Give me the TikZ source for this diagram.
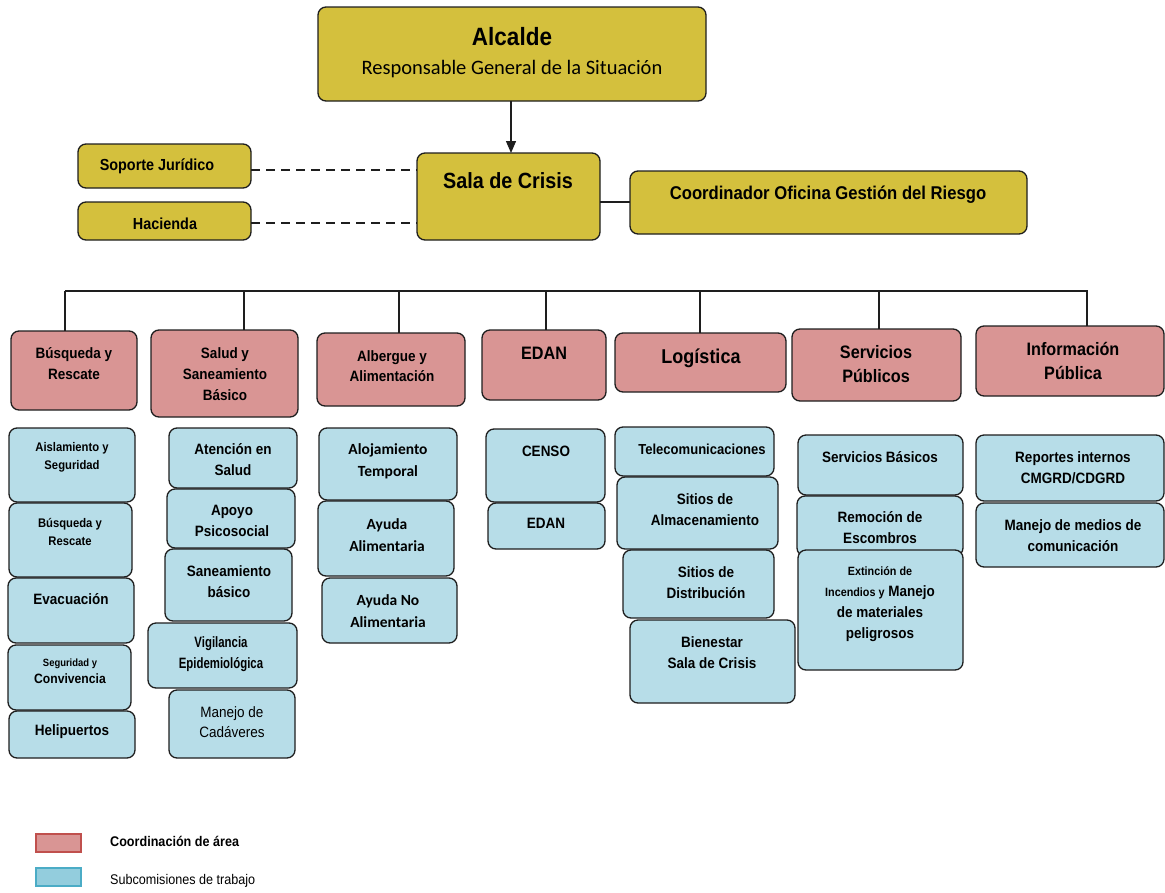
\documentclass[tikz,border=0pt]{standalone}
\usepackage{fontspec}
\setmainfont{Liberation Sans}[FakeStretch=0.9]
\newfontfamily\carl{Carlito}
\newfontfamily\tightf{Liberation Sans}[FakeStretch=0.76]
\usetikzlibrary{arrows.meta}
\definecolor{gold}{HTML}{D4C03D}
\definecolor{redf}{HTML}{D99594}
\definecolor{bluef}{HTML}{B7DDE8}
\definecolor{edge}{HTML}{1E1E1E}
\definecolor{legred}{HTML}{C0504D}
\definecolor{legblue}{HTML}{4BACC6}
\definecolor{legbluef}{HTML}{93CDDD}
\newcommand{\fz}[2]{\fontsize{#1}{#2}\selectfont}
\newcommand{\bx}[6]{\node[#6, anchor=north west, minimum width={#4-#2}, minimum height={#5-#3}] (#1) at (#2,#3) {};}
\tikzset{
  box/.style={draw=edge, line width=1.3pt, rounded corners=8pt, inner sep=0pt, outer sep=0pt},
  goldbox/.style={box, fill=gold},
  redbox/.style={box, fill=redf},
  bluebox/.style={box, fill=bluef},
  tx/.style={align=center, inner sep=0pt, font=\bfseries\fz{15}{21}},
  link/.style={draw=edge, line width=1.3pt},
}
\begin{document}
\begin{tikzpicture}[x=1pt, y=-1pt]
\useasboundingbox (0,0) rectangle (1165,892);
% top level
\bx{alc}{318}{7}{706}{101}{goldbox}
\node[tx, font=\bfseries\fz{25}{28}] (alct) at (512,37) {Alcalde};
\node[tx, font=\carl\fz{20.5}{22}] (alcs) at (512,69) {Responsable General de la Situación};
\bx{sala}{417}{153}{600}{240}{goldbox}
\node[tx, font=\bfseries\fz{22}{24}] (salat) at (508,181) {Sala de Crisis};
\bx{sop}{78}{144}{251}{188}{goldbox}
\node[tx, font=\bfseries\fz{16}{18}] (sopt) at (157,166) {Soporte Jurídico};
\bx{hac}{78}{202}{251}{240}{goldbox}
\node[tx, font=\bfseries\fz{16}{18}] (hact) at (165,224) {Hacienda};
\bx{coord}{630}{171}{1027}{234}{goldbox}
\node[tx, font=\bfseries\fz{18.5}{20}] (coordt) at (828,195) {Coordinador Oficina Gestión del Riesgo};
\draw[link, -{Triangle[length=12pt, width=10pt]}] (alc.south -| 511,0) -- (sala.north -| 511,0);
\draw[link, dash pattern=on 9pt off 6pt] (sop.east |- 0,170) -- (sala.west |- 0,170);
\draw[link, dash pattern=on 9pt off 6pt] (hac.east |- 0,223) -- (sala.west |- 0,223);
\draw[link] (sala.east |- 0,202) -- (coord.west |- 0,202);
% area coordinators
\bx{r1}{11}{331}{137}{410}{redbox}
\node[tx] (r1t) at (74,363.5) {Búsqueda y\\Rescate};
\bx{r2}{151}{330}{298}{417}{redbox}
\node[tx] (r2t) at (225,374) {Salud y\\Saneamiento\\Básico};
\bx{r3}{317}{333}{465}{406}{redbox}
\node[tx, font=\bfseries\fz{15}{20}] (r3t) at (392,366) {Albergue y\\Alimentación};
\bx{r4}{482}{330}{606}{400}{redbox}
\node[tx, font=\bfseries\fz{18}{22}] (r4t) at (544,353) {EDAN};
\bx{r5}{615}{333}{786}{392}{redbox}
\node[tx, font=\bfseries\fz{20}{22}] (r5t) at (701,358) {Logística};
\bx{r6}{792}{329}{961}{401}{redbox}
\node[tx, font=\bfseries\fz{18}{24}] (r6t) at (876,364) {Servicios\\Públicos};
\bx{r7}{976}{326}{1164}{396}{redbox}
\node[tx, font=\bfseries\fz{18}{24}] (r7t) at (1073,361) {Información\\Pública};
% bus
\coordinate (bl) at (65,291);
\coordinate (br) at (1088,291);
\draw[link] (bl) -- (br);
\coordinate (k1) at (65,291);
\coordinate (k2) at (244,291);
\coordinate (k3) at (399,291);
\coordinate (k4) at (546,291);
\coordinate (k5) at (700,291);
\coordinate (k6) at (879,291);
\coordinate (k7) at (1087,291);
\draw[link] (k1) -- (k1 |- r1.north);
\draw[link] (k2) -- (k2 |- r2.north);
\draw[link] (k3) -- (k3 |- r3.north);
\draw[link] (k4) -- (k4 |- r4.north);
\draw[link] (k5) -- (k5 |- r5.north);
\draw[link] (k6) -- (k6 |- r6.north);
\draw[link] (k7) -- (k7 |- r7.north);
% column 1
\bx{b11}{9}{428}{135}{502}{bluebox}
\node[tx, font=\bfseries\fz{12.5}{18}] (b11t) at (72,457.5) {Aislamiento y\\Seguridad};
\bx{b12}{9}{503}{132}{577}{bluebox}
\node[tx, font=\bfseries\fz{12.5}{18}] (b12t) at (70,532) {Búsqueda y\\Rescate};
\bx{b13}{8}{578}{134}{643}{bluebox}
\node[tx, font=\bfseries\fz{15}{18}] (b13t) at (71,599) {Evacuación};
\bx{b14}{8}{645}{131}{710}{bluebox}
\node[tx, font=\bfseries\fz{13.5}{17}] (b14t) at (70,671.5) {{\fz{10.5}{13}Seguridad y}\\Convivencia};
\bx{b15}{9}{711}{135}{758}{bluebox}
\node[tx, font=\bfseries\fz{15}{18}] (b15t) at (72,732) {Helipuertos};
% column 2
\bx{b21}{169}{428}{297}{488}{bluebox}
\node[tx] (b21t) at (233,459.5) {Atención en\\Salud};
\bx{b22}{167}{489}{295}{548}{bluebox}
\node[tx] (b22t) at (232,520.5) {Apoyo\\Psicosocial};
\bx{b23}{165}{549}{292}{621}{bluebox}
\node[tx] (b23t) at (229,581.5) {Saneamiento\\básico};
\bx{b24}{148}{623}{297}{688}{bluebox}
\node[tx, font=\tightf\bfseries\fz{15}{21}] (b24t) at (221,654.5) {Vigilancia\\Epidemiológica};
\bx{b25}{169}{690}{295}{758}{bluebox}
\node[tx, font=\fz{15}{20}] (b25t) at (232,722) {Manejo de\\Cadáveres};
% column 3
\bx{b31}{319}{428}{457}{500}{bluebox}
\node[tx, font=\carl\bfseries\fz{15.5}{22}] (b31t) at (388,461) {Alojamiento\\Temporal};
\bx{b32}{318}{501}{454}{576}{bluebox}
\node[tx, font=\carl\bfseries\fz{15.5}{22}] (b32t) at (387,535) {Ayuda\\Alimentaria};
\bx{b33}{322}{578}{457}{643}{bluebox}
\node[tx, font=\carl\bfseries\fz{15.5}{22}] (b33t) at (388,611) {Ayuda No\\Alimentaria};
% column 4
\bx{b41}{486}{429}{605}{502}{bluebox}
\node[tx] (b41t) at (546,451) {CENSO};
\bx{b42}{488}{503}{605}{549}{bluebox}
\node[tx] (b42t) at (546,523) {EDAN};
% column 5
\bx{b51}{615}{427}{774}{476}{bluebox}
\node[tx, font=\bfseries\fz{14.5}{21}] (b51t) at (702,449) {Telecomunicaciones};
\bx{b52}{617}{477}{778}{549}{bluebox}
\node[tx] (b52t) at (705,509.5) {Sitios de\\Almacenamiento};
\bx{b53}{623}{550}{774}{618}{bluebox}
\node[tx] (b53t) at (706,582.5) {Sitios de\\Distribución};
\bx{b54}{630}{620}{795}{703}{bluebox}
\node[tx] (b54t) at (712,652.5) {Bienestar\\Sala de Crisis};
% column 6
\bx{b61}{798}{435}{963}{495}{bluebox}
\node[tx] (b61t) at (880,457) {Servicios Básicos};
\bx{b62}{797}{496}{963}{556}{bluebox}
\node[tx] (b62t) at (880,527.5) {Remoción de\\Escombros};
\bx{b63}{798}{550}{963}{670}{bluebox}
\node[tx] (b63t) at (880,604) {{\fz{12}{14}Extinción de}\\{\fz{12}{14}Incendios y} Manejo\\de materiales\\peligrosos};
% column 7
\bx{b71}{976}{435}{1164}{501}{bluebox}
\node[tx] (b71t) at (1073,467.5) {Reportes internos\\CMGRD/CDGRD};
\bx{b72}{976}{503}{1164}{567}{bluebox}
\node[tx] (b72t) at (1073,535.5) {Manejo de medios de\\comunicación};
% legend
\bx{lg1}{35}{833}{80}{851}{draw=legred, fill=redf, line width=1.6pt, inner sep=0pt}
\node[anchor=west, inner sep=0pt, font=\bfseries\fz{14}{16}] (lg1t) at (110,841) {Coordinación de área};
\bx{lg2}{35}{867}{80}{885}{draw=legblue, fill=legbluef, line width=1.6pt, inner sep=0pt}
\node[anchor=west, inner sep=0pt, font=\fz{14}{16}] (lg2t) at (110,881) {Subcomisiones de trabajo};
\end{tikzpicture}
\end{document}
